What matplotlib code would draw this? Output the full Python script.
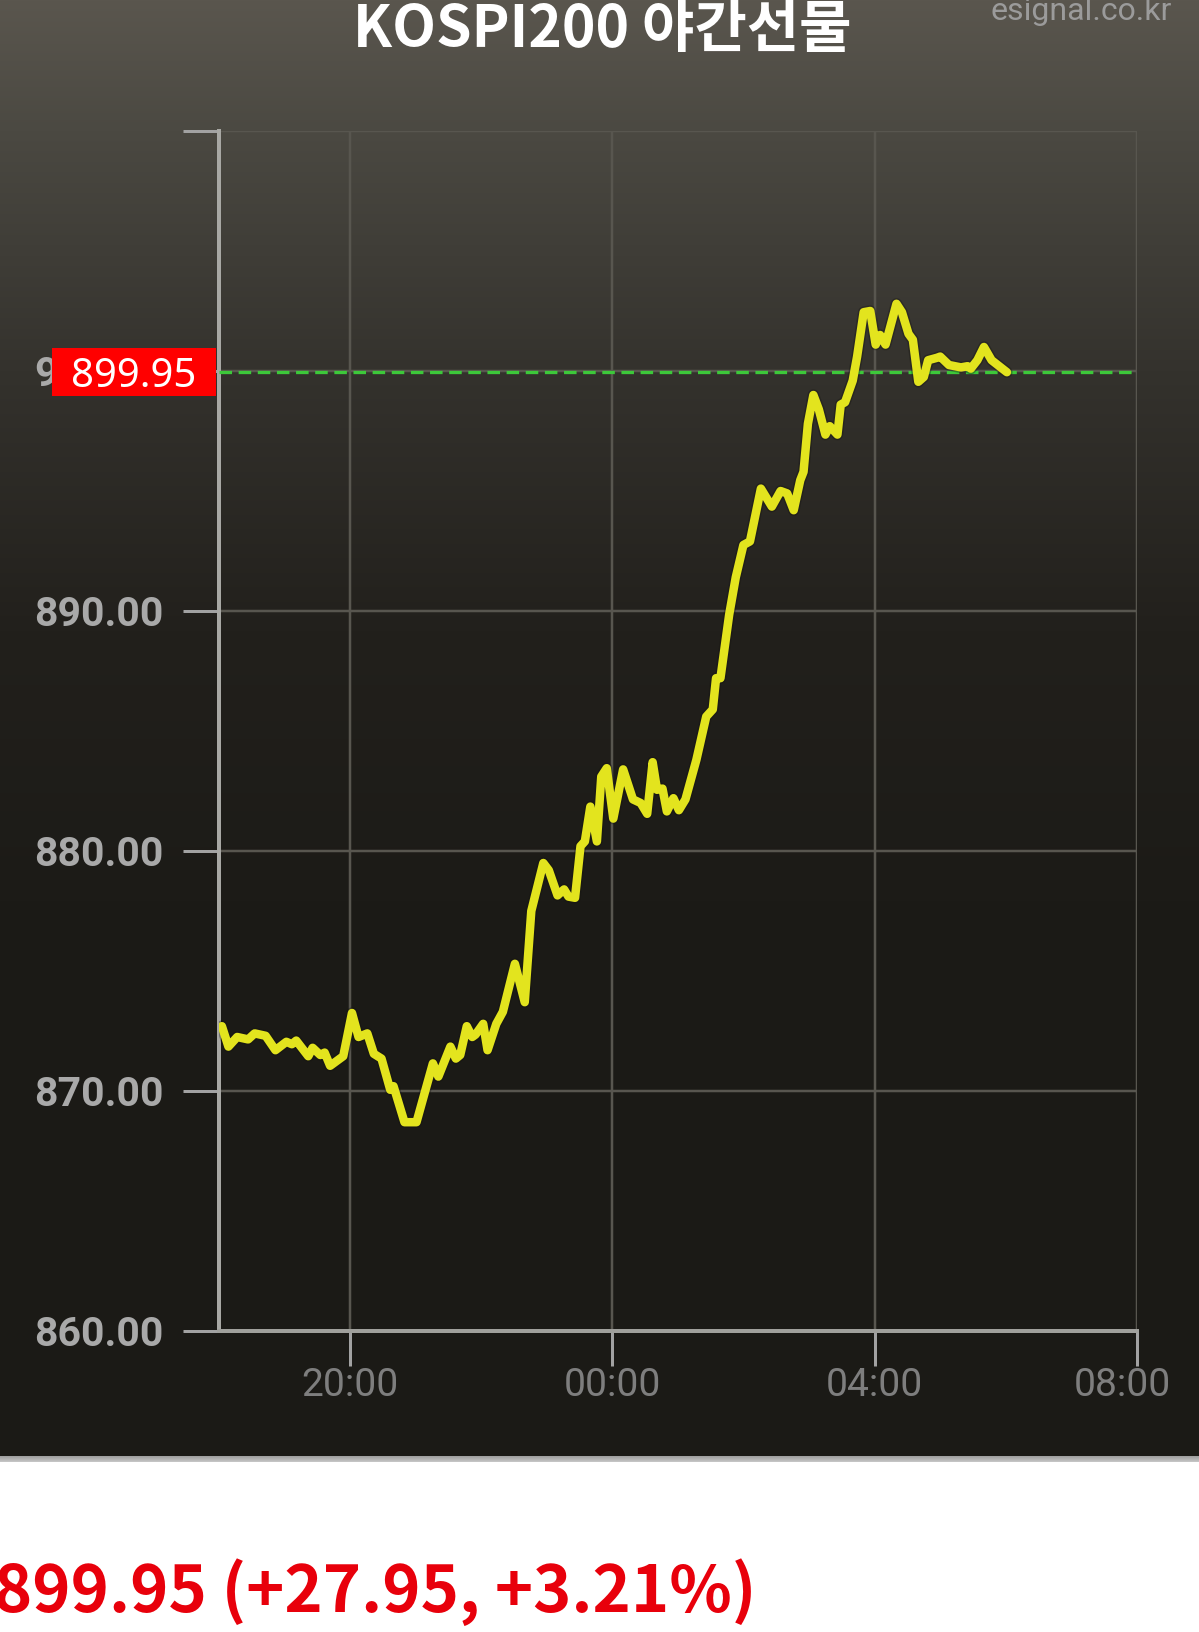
import numpy as np
import matplotlib
matplotlib.use("Agg")
import matplotlib.pyplot as plt
from matplotlib.patches import Rectangle
from matplotlib.transforms import blended_transform_factory, ScaledTranslation
import matplotlib.patheffects as pe

# ---------------- data ----------------
title = "KOSPI200 야간선물"
watermark = "esignal.co.kr"
summary = "899.95 (+27.95, +3.21%)"
last_label = "899.95"
last_value = 899.95

times = ["18:03", "18:09", "18:17", "18:27", "18:33", "18:43", "18:52", "19:02", "19:07", "19:11",
         "19:22", "19:26", "19:33", "19:37", "19:42", "19:54", "20:02", "20:08", "20:16", "20:22",
         "20:29", "20:37", "20:40", "20:50", "21:01", "21:16", "21:21", "21:32", "21:37", "21:41",
         "21:47", "21:52", "21:55", "22:02", "22:06", "22:14", "22:20", "22:31", "22:40", "22:46",
         "22:57", "23:02", "23:10", "23:16", "23:20", "23:26", "23:31", "23:35", "23:40", "23:46",
         "23:50", "23:55", "00:01", "00:10", "00:19", "00:26", "00:32", "00:37", "00:41", "00:46",
         "00:50", "00:56", "01:01", "01:07", "01:17", "01:26", "01:32", "01:35", "01:39", "01:47",
         "01:53", "02:00", "02:06", "02:16", "02:26", "02:34", "02:40", "02:46", "02:52", "02:55",
         "02:59", "03:04", "03:09", "03:15", "03:19", "03:26", "03:29", "03:33", "03:40", "03:44",
         "03:50", "03:56", "04:01", "04:05", "04:10", "04:20", "04:25", "04:31", "04:35", "04:40",
         "04:45", "04:49", "04:57", "05:00", "05:08", "05:19", "05:25", "05:28", "05:34", "05:40",
         "05:47", "06:01"]
values = [872.70, 871.85, 872.25, 872.15, 872.40, 872.30, 871.70, 872.05, 871.95, 872.10,
          871.45, 871.80, 871.50, 871.60, 871.05, 871.45, 873.25, 872.25, 872.40, 871.55,
          871.35, 870.05, 870.20, 868.70, 868.70, 871.15, 870.60, 871.85, 871.35, 871.50,
          872.70, 872.25, 872.35, 872.80, 871.70, 872.80, 873.30, 875.30, 873.70, 877.50,
          879.50, 879.20, 878.15, 878.40, 878.10, 878.05, 880.20, 880.40, 881.85, 880.40,
          883.10, 883.45, 881.35, 883.40, 882.15, 882.00, 881.55, 883.70, 882.55, 882.60,
          881.65, 882.20, 881.70, 882.15, 883.80, 885.60, 885.90, 887.20, 887.20, 889.85,
          891.40, 892.75, 892.90, 895.10, 894.35, 895.00, 894.90, 894.20, 895.45, 895.80,
          897.80, 899.00, 898.40, 897.35, 897.70, 897.35, 898.60, 898.70, 899.60, 900.60,
          902.45, 902.50, 901.10, 901.50, 901.10, 902.80, 902.45, 901.55, 901.30, 899.55,
          899.75, 900.45, 900.55, 900.60, 900.25, 900.15, 900.20, 900.10, 900.45, 901.00,
          900.45, 899.95]

x_tick_hours = [2, 6, 10, 14]
x_tick_labels = ["20:00", "00:00", "04:00", "08:00"]
y_ticks = [860, 870, 880, 890, 900, 910]
y_tick_labels = ["860.00", "870.00", "880.00", "890.00", "900.00", ""]


def to_hours(t):
    hh, mm = map(int, t.split(":"))
    return ((hh - 18) % 24) + mm / 60.0


x = np.array([to_hours(t) for t in times])
y = np.array(values)

# ---------------- figure ----------------
W, H, DPI = 1199, 1632, 100
fig = plt.figure(figsize=(W / DPI, H / DPI), dpi=DPI)
fig.patch.set_facecolor("white")
PX = 72.0 / DPI  # points per pixel

# background gradient
bg = fig.add_axes([0, 0, 1, 1], zorder=-10)
bg.set_axis_off()
rows = np.arange(H)
stops_y = [0, 130, 370, 630, 900, 1455, 1456, 1461, 1462, H]
stops_c = np.array([
    [0x5a, 0x56, 0x4e], [0x4b, 0x49, 0x42], [0x34, 0x32, 0x2d], [0x22, 0x20, 0x1c],
    [0x1c, 0x1b, 0x17], [0x1b, 0x1a, 0x16], [0xa0, 0xa0, 0xa0], [0xc4, 0xc4, 0xc4],
    [0xff, 0xff, 0xff], [0xff, 0xff, 0xff]]) / 255.0
grad = np.stack([np.interp(rows, stops_y, stops_c[:, k]) for k in range(3)], axis=1)
bg.imshow(grad[:, None, :], aspect="auto", extent=[0, 1, 0, 1], origin="upper",
          interpolation="nearest")
bg.set_xlim(0, 1)
bg.set_ylim(0, 1)

# main axes (pixel placement)
L, R, T, B = 218.6, 1137.0, 131.0, 1331.0
ax = fig.add_axes([L / W, 1 - B / H, (R - L) / W, (B - T) / H])
ax.set_facecolor("none")
ax.set_xlim(0, 14)
ax.set_ylim(860, 910)

ax.set_xticks(x_tick_hours)
ax.set_xticklabels(x_tick_labels, fontfamily="Roboto", fontsize=39 * PX, color="#7e7e7e")
ax.set_yticks(y_ticks)
ax.set_yticklabels(y_tick_labels, fontfamily="Roboto", fontweight="bold",
                   fontsize=41 * PX, color="#a9a9a9")
ax.tick_params(axis="x", length=35 * PX, width=3 * PX, color="#a2a2a2", pad=1)
ax.tick_params(axis="y", length=36 * PX, width=3 * PX, color="#a2a2a2", pad=19 * PX)

ax.grid(True, color="#58564f", linewidth=2.5 * PX)
ax.set_axisbelow(True)

for s in ["top", "right"]:
    ax.spines[s].set_visible(False)
ax.spines["left"].set_color("#a8a8a4")
ax.spines["left"].set_linewidth(4 * PX)
ax.spines["bottom"].set_color("#a0a09c")
ax.spines["bottom"].set_linewidth(4 * PX)
ax.spines["left"].set_zorder(3)
ax.spines["bottom"].set_zorder(3)

# shift the last x label left so it stays inside the image
lbls = ax.get_xticklabels()
lbls[-1].set_transform(lbls[-1].get_transform() +
                       ScaledTranslation(-15 / DPI, 0, fig.dpi_scale_trans))

# last-value dashed line
ax.axhline(last_value, color="#3dc83a", linewidth=3.3 * PX, dashes=(3.8, 2.0),
           zorder=4)

# price line
ax.plot(x, y, color="#e3e41e", linewidth=8.5 * PX, solid_joinstyle="round",
        solid_capstyle="round", zorder=5,
        path_effects=[pe.Stroke(linewidth=11.5 * PX, foreground="#14130e", alpha=0.35),
                      pe.Normal()])

# red value box
tr = blended_transform_factory(ax.transAxes, ax.transData)
box_l = (52 - L) / (R - L)
box_r = (216 - L) / (R - L)
ax.add_patch(Rectangle((box_l, last_value - 1.0), box_r - box_l, 2.0, transform=tr,
                       facecolor="#ff0000", edgecolor="none", clip_on=False, zorder=10))
ax.text((box_l + box_r) / 2, last_value, last_label, transform=tr, ha="center",
        va="center_baseline", color="white", fontfamily="Noto Sans", fontsize=40 * PX,
        zorder=11, clip_on=False)

# texts
fig.text(602 / W, 1 - 47 / H, title, ha="center", va="baseline", color="white",
         fontfamily=["Noto Sans CJK KR", "DejaVu Sans"], fontweight="bold",
         fontsize=57 * PX)
fig.text(1172 / W, 1 - 20 / H, watermark, ha="right", va="baseline", color="#9b9b9b",
         fontfamily="Roboto", fontsize=32 * PX)
fig.text(-6 / W, 1 - 1612 / H, summary, ha="left", va="baseline", color="#e8000b",
         fontfamily=["Noto Sans CJK KR", "DejaVu Sans"], fontweight="bold",
         fontsize=65 * PX)

fig.savefig("out.png", dpi=DPI)
